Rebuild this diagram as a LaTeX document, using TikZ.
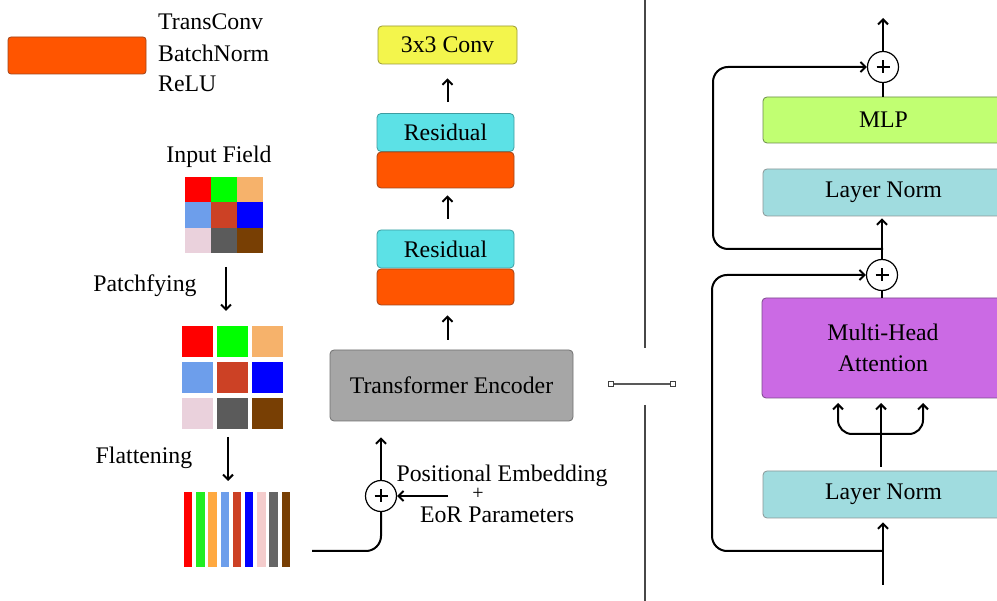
\documentclass[tikz,border=0pt]{standalone}
\usepackage{fontspec}
\setmainfont{Liberation Serif}
\usetikzlibrary{arrows.meta,calc}

% block fills and their outlines
\definecolor{orng}{HTML}{FF5500}
\definecolor{orngd}{HTML}{A0441A}
\definecolor{resc}{HTML}{5CE1E6}
\definecolor{rescd}{HTML}{3E9CA0}
\definecolor{convy}{HTML}{F3F54C}
\definecolor{convyd}{HTML}{9A9A36}
\definecolor{teg}{HTML}{A6A6A6}
\definecolor{tegd}{HTML}{707070}
\definecolor{mlpg}{HTML}{C1FF72}
\definecolor{mlpgd}{HTML}{6A8C4A}
\definecolor{lnc}{HTML}{A0DCDF}
\definecolor{lncd}{HTML}{8A9696}
\definecolor{mhap}{HTML}{CB6AE4}
\definecolor{mhapd}{HTML}{7B4A8A}
% patch colours
\definecolor{pR}{HTML}{FF0000}
\definecolor{pG}{HTML}{00FF00}
\definecolor{pS}{HTML}{F6B26B}
\definecolor{pC}{HTML}{6D9EEB}
\definecolor{pK}{HTML}{CC4125}
\definecolor{pB}{HTML}{0000FF}
\definecolor{pP}{HTML}{EAD1DC}
\definecolor{pD}{HTML}{5B5B5B}
\definecolor{pW}{HTML}{783F04}
% strip colours
\definecolor{sG}{HTML}{22EE22}
\definecolor{sO}{HTML}{FFA940}
\definecolor{sP}{HTML}{F4CCCC}
\definecolor{sD}{HTML}{666666}

\begin{document}
\begin{tikzpicture}[x=1pt,y=-1pt,
  txt/.style={font=\fontsize{23.8}{28}\selectfont, inner sep=0pt},
  blk/.style={draw, rounded corners=4pt, line width=0.8pt, inner sep=0pt,
              font=\fontsize{23.8}{31}\selectfont, align=center},
  arr/.style={line width=2pt, -{Straight Barb[length=5pt,width=10pt]}},
  wire/.style={line width=2pt},
  sum/.style={circle, draw, line width=1.2pt, fill=white, minimum size=31pt, inner sep=0pt,
    path picture={\draw[line width=2pt]
      ($(path picture bounding box.center)+(-6.5,0)$) -- ++(13,0)
      ($(path picture bounding box.center)+(0,-6.5)$) -- ++(0,13);}},
  handle/.style={rectangle, draw=black!75, fill=white, line width=0.8pt,
                 minimum size=4.5pt, inner sep=0pt},
]
\useasboundingbox (0,0) rectangle (997,601);
\clip (0,0) rectangle (997,601);

% ---------- legend ----------
\node[blk, rounded corners=3pt, fill=orng, draw=orngd, minimum width=138pt, minimum height=37pt] (leg) at (77,55.5) {};
\node[txt, anchor=base west] (lt1) at (158,30) {TransConv};
\node[txt, anchor=base west] (lt2) at (158,62) {BatchNorm};
\node[txt, anchor=base west] (lt3) at (158,92) {ReLU};

% ---------- input field ----------
\node[txt, anchor=base] (fieldlbl) at (219,163) {Input Field};
\foreach \c [count=\i from 0] in {pR,pG,pS,pC,pK,pB,pP,pD,pW}{
  \pgfmathtruncatemacro{\cc}{mod(\i,3)}
  \pgfmathtruncatemacro{\rr}{\i/3}
  \fill[\c] (185+26*\cc,177+25.5*\rr) rectangle ++(26,25.5);
}

\coordinate (a1s) at (226,267);
\coordinate (a1e) at (226,311);
\draw[arr] (a1s) -- (a1e);
\node[txt, anchor=base] (patchlbl) at (145,292) {Patchfying};

% ---------- patches ----------
\foreach \c [count=\i from 0] in {pR,pG,pS,pC,pK,pB,pP,pD,pW}{
  \pgfmathtruncatemacro{\cc}{mod(\i,3)}
  \pgfmathtruncatemacro{\rr}{\i/3}
  \fill[\c] (182+35*\cc,326+36*\rr) rectangle ++(30.5,31);
}

\coordinate (a2s) at (228,437);
\coordinate (a2e) at (228,481);
\draw[arr] (a2s) -- (a2e);
\node[txt, anchor=base] (flatlbl) at (144,464) {Flattening};

% ---------- flattened strips ----------
\foreach \c [count=\i from 0] in {pR,sG,sO,pC,pK,pB,sP,sD,pW}{
  \fill[\c] (184+12.2*\i,492) rectangle ++(8.3,75);
}

% ---------- decoder column ----------
\node[blk, fill=convy, draw=convyd, minimum width=139pt, minimum height=38pt] (conv) at (447.5,45) {3x3 Conv};
\node[blk, fill=resc, draw=rescd, minimum width=137pt, minimum height=38pt] (res2) at (445.5,132.5) {Residual};
\node[blk, fill=orng, draw=orngd, minimum width=137pt, minimum height=36pt] (org2) at (445.5,170) {};
\node[blk, fill=resc, draw=rescd, minimum width=137pt, minimum height=38pt] (res1) at (445.5,249) {Residual};
\node[blk, fill=orng, draw=orngd, minimum width=137pt, minimum height=36pt] (org1) at (445.5,287) {};
\node[blk, fill=teg, draw=tegd, minimum width=243pt, minimum height=71pt] (te) at (451.5,385.5) {Transformer Encoder};

\draw[arr, shorten <=10pt, shorten >=10pt] ($(org1.south |- te.north)+(2,0)$) -- ($(org1.south)+(2,0)$);
\draw[arr, shorten <=11pt, shorten >=7pt] ($(res1.north)+(2,0)$) -- ($(org2.south)+(2,0)$);
\draw[arr, shorten <=11pt, shorten >=14pt] ($(res2.north)+(2,0)$) -- ($(res2.north |- conv.south)+(2,0)$);

% ---------- embedding sum ----------
\node[sum] (pl) at (381,496) {};
\coordinate (fend) at (312,551);
\draw[wire, rounded corners=15pt] (fend) -| (pl.south);
\draw[arr, shorten >=16pt] (pl.north) -- (pl.north |- te.south);
\coordinate (pein) at (448,496);
\draw[arr] (pein) -- (pl.east);
\node[txt, anchor=base] (pe1) at (502,482) {Positional Embedding};
\node[txt, font=\fontsize{20}{22}\selectfont] (pe2) at (478,494) {+};
\node[txt, anchor=base] (pe3) at (497,523) {EoR Parameters};

% ---------- separator ----------
\draw[line width=1.5pt, black!72] (645,0) -- (645,348);
\draw[line width=1.5pt, black!72] (645,405) -- (645,601);
\node[handle] (h1) at (611,384) {};
\node[handle] (h2) at (673,384) {};
\draw[line width=1.2pt, black!65] (h1) -- (h2);

% ---------- encoder block ----------
\node[blk, fill=mlpg, draw=mlpgd, minimum width=241pt, minimum height=46pt] (mlp) at (883.5,120) {MLP};
\node[blk, fill=lnc, draw=lncd, minimum width=241pt, minimum height=47pt] (ln1) at (883.5,192.5) {Layer Norm};
\node[blk, fill=mhap, draw=mhapd, minimum width=242pt, minimum height=100pt] (mha) at (883,348) {Multi-Head\\Attention};
\node[blk, fill=lnc, draw=lncd, minimum width=241pt, minimum height=47pt] (ln2) at (883.5,494.5) {Layer Norm};

\node[sum] (c1) at (883,67) {};
\node[sum] (c2) at (882,275) {};

\coordinate (otop) at (883,18);
\draw[arr] (c1.north) -- (otop);
\draw[wire] (mlp.north -| c1.south) -- (c1.south);
\draw[arr, shorten >=2pt] (c2.north) -- (c2.north |- ln1.south);
\draw[wire] (mha.north -| c2.south) -- (c2.south);

% residual around the MLP
\coordinate (s1) at (883,249);
\coordinate (k1) at (713,67);
\draw[arr, rounded corners=15pt] (s1) -| (k1) -- (c1.west);

% residual around the attention
\coordinate (inb) at (883,585);
\draw[arr, shorten >=4pt] (inb) -- (inb |- ln2.south);
\coordinate (s2) at (883,551);
\coordinate (k2) at (712,275);
\draw[arr, rounded corners=15pt] (s2) -| (k2) -- (c2.west);

% query / key / value fan-out
\draw[arr, shorten <=4pt, shorten >=5pt] (881,471) -- (881,398);
\coordinate (fk) at (881,434);
\coordinate (fl) at (838,403);
\coordinate (fr) at (923,403);
\draw[line width=2pt, {Straight Barb[length=5pt,width=10pt]}-{Straight Barb[length=5pt,width=10pt]}, rounded corners=14pt] (fl) |- (fk) -| (fr);
\end{tikzpicture}
\end{document}
